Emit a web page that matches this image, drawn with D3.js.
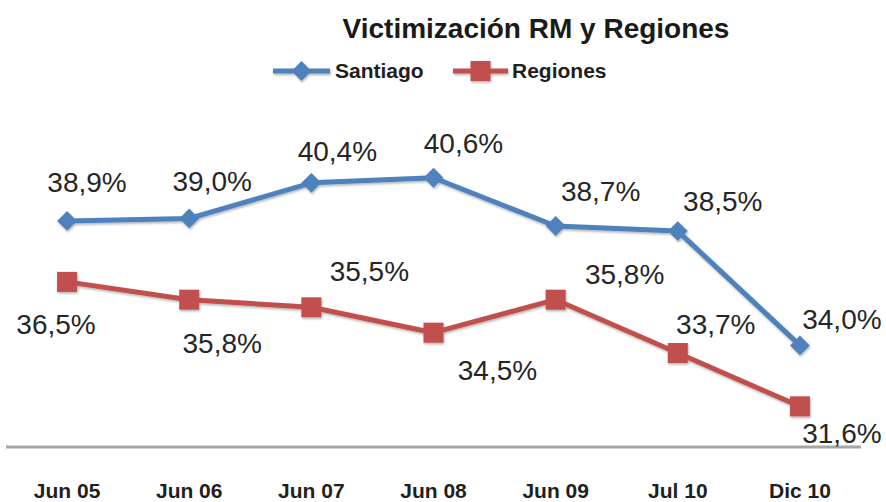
<!DOCTYPE html>
<html>
<head>
<meta charset="utf-8">
<script src="https://cdn.jsdelivr.net/npm/d3@7"></script>
<style>
  html, body { margin: 0; padding: 0; background: #fff; }
  svg { display: block; font-family: "Liberation Sans", Arial, sans-serif; }
</style>
</head>
<body>
<svg id="chart" width="886" height="502"></svg>
<script>
// Survey periods and victimisation rates (%)
const categories = ["Jun 05", "Jun 06", "Jun 07", "Jun 08", "Jun 09", "Jul 10", "Dic 10"];
const santiago = [38.9, 39.0, 40.4, 40.6, 38.7, 38.5, 34.0];
const regiones = [36.5, 35.8, 35.5, 34.5, 35.8, 33.7, 31.6];
const seriesNames = ["Santiago", "Regiones"];
const chartTitle = "Victimización RM y Regiones";

// Hand-placed label offsets (label centre / baseline relative to the point)
const santiagoLabelOffsets = [[20, -29], [23, -27], [26, -22], [30, -25], [45, -25], [45, -20], [42, -16]];
const regionesLabelOffsets = [[-11, 52], [33, 53], [58, -26], [64, 47], [69, -16], [38, -19], [42, 37]];

const svg = d3.select("#chart");
const fmt = v => d3.format(".1f")(v).replace(".", ",") + "%";

const x = d3.scaleBand().domain(categories).range([6, 861]);
const cx = c => x(c) + x.bandwidth() / 2;
const y = d3.scaleLinear().domain([30, 45]).range([447, 66]);

// soft shadow under lines and markers
const defs = svg.append("defs");
const f = defs.append("filter").attr("id", "shadow").attr("x", "-20%").attr("y", "-20%").attr("width", "140%").attr("height", "140%");
f.append("feDropShadow").attr("dx", 0.8).attr("dy", 1.6).attr("stdDeviation", 0.8)
  .attr("flood-color", "#000").attr("flood-opacity", 0.3);

// title
svg.append("text")
  .attr("x", 536).attr("y", 38)
  .attr("text-anchor", "middle")
  .attr("font-size", 28).attr("font-weight", "bold").attr("fill", "#1a1a1a")
  .text(chartTitle);

// category axis
const axis = svg.append("g").attr("transform", "translate(0,447)")
  .call(d3.axisBottom(x).tickSize(0).tickPadding(0));
axis.select(".domain").attr("stroke", "#a6a6a6").attr("stroke-width", 3)
  .attr("d", "M6,0H861");
axis.selectAll(".tick text")
  .attr("y", 51).attr("dy", 0)
  .attr("font-size", 21).attr("font-weight", "bold")
  .attr("font-family", "'Liberation Sans', Arial, sans-serif")
  .attr("fill", "#1f1f1f");

const series = [
  { name: seriesNames[0], values: santiago, color: "#4f81bd", shape: "diamond", offsets: santiagoLabelOffsets },
  { name: seriesNames[1], values: regiones, color: "#c0504d", shape: "square", offsets: regionesLabelOffsets }
];

const line = d3.line().x((d, i) => cx(categories[i])).y(d => y(d));

function marker(g, shape, color) {
  if (shape === "diamond") {
    g.append("rect").attr("x", -7).attr("y", -7).attr("width", 14).attr("height", 14)
      .attr("transform", "rotate(45)").attr("fill", color);
  } else {
    g.append("rect").attr("x", -10).attr("y", -10).attr("width", 20).attr("height", 20)
      .attr("fill", color);
  }
}

series.forEach(s => {
  const g = svg.append("g").attr("filter", "url(#shadow)");
  g.append("path").datum(s.values)
    .attr("d", line).attr("fill", "none")
    .attr("stroke", s.color).attr("stroke-width", 5).attr("stroke-linejoin", "round");
  s.values.forEach((v, i) => {
    const m = g.append("g").attr("transform", `translate(${cx(categories[i])},${y(v)})`);
    marker(m, s.shape, s.color);
  });
  svg.append("g").selectAll("text").data(s.values).join("text")
    .attr("x", (d, i) => cx(categories[i]) + s.offsets[i][0])
    .attr("y", (d, i) => y(d) + s.offsets[i][1])
    .attr("text-anchor", "middle")
    .attr("font-size", 28).attr("fill", "#262626")
    .text(d => fmt(d));
});

// legend
const legendItems = [
  { name: seriesNames[0], color: "#4f81bd", shape: "diamond", x0: 273, x1: 330, tx: 335 },
  { name: seriesNames[1], color: "#c0504d", shape: "square", x0: 453, x1: 508, tx: 512 }
];
legendItems.forEach(it => {
  const g = svg.append("g");
  const gl = g.append("g").attr("filter", "url(#shadow)");
  gl.append("line").attr("x1", it.x0).attr("x2", it.x1).attr("y1", 71).attr("y2", 71)
    .attr("stroke", it.color).attr("stroke-width", 5);
  const m = gl.append("g").attr("transform", `translate(${(it.x0 + it.x1) / 2},71)`);
  marker(m, it.shape, it.color);
  g.append("text").attr("x", it.tx).attr("y", 78)
    .attr("font-size", 21).attr("font-weight", "bold").attr("fill", "#1f1f1f")
    .text(it.name);
});
</script>
</body>
</html>
